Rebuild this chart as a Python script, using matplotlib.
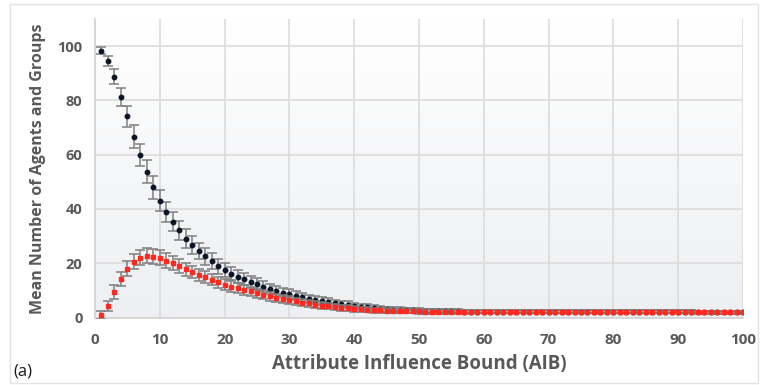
import numpy as np
import matplotlib
matplotlib.use("Agg")
import matplotlib.pyplot as plt
from matplotlib.patches import Rectangle

# attribute influence bound, 1..100
aib = list(range(1, 101))

agents_mean = [
    98.3, 94.5, 88.7, 81.4, 74.2, 66.7, 60.0, 53.8, 48.0, 43.1,
    39.0, 35.3, 32.2, 29.1, 26.6, 24.5, 22.5, 20.8, 18.9, 17.6,
    16.2, 15.1, 14.1, 13.2, 12.3, 11.4, 10.5, 9.8, 9.2, 8.7,
    8.0, 7.4, 6.9, 6.5, 6.1, 5.7, 5.3, 5.0, 4.7, 4.3,
    4.0, 3.7, 3.4, 3.2, 3.0, 2.9, 2.8, 2.7, 2.6, 2.5,
    2.45, 2.4, 2.35, 2.3, 2.3, 2.25, 2.2, 2.2, 2.2, 2.15,
    2.1, 2.1, 2.1, 2.1, 2.1, 2.1, 2.1, 2.1, 2.1, 2.1,
    2.1, 2.1, 2.1, 2.1, 2.1, 2.1, 2.1, 2.1, 2.1, 2.1,
    2.1, 2.1, 2.1, 2.1, 2.1, 2.1, 2.1, 2.1, 2.1, 2.1,
    2.1, 2.1, 1.9, 1.9, 1.9, 1.9, 1.9, 1.9, 1.9, 1.9,
]
agents_err = [
    1.2, 1.8, 2.7, 3.3, 3.9, 4.2, 4.1, 4.2, 4.2, 3.8,
    3.7, 3.6, 3.5, 3.4, 3.3, 3.1, 3.0, 2.9, 2.7, 2.6,
    2.5, 2.4, 2.3, 2.2, 2.1, 2.0, 1.9, 1.8, 1.75, 1.7,
    1.6, 1.55, 1.5, 1.45, 1.4, 1.35, 1.3, 1.25, 1.2, 1.15,
    1.1, 1.1, 1.05, 1.05, 1.0, 1.0, 0.95, 0.9, 0.9, 0.85,
    0.85, 0.8, 0.8, 0.8, 0.75, 0.75, 0.7, 0.7, 0.7, 0.65,
    0.6, 0.6, 0.6, 0.6, 0.6, 0.6, 0.6, 0.6, 0.6, 0.6,
    0.6, 0.6, 0.6, 0.6, 0.6, 0.6, 0.6, 0.6, 0.6, 0.6,
    0.6, 0.6, 0.6, 0.6, 0.6, 0.6, 0.6, 0.6, 0.6, 0.6,
    0.6, 0.6, 0.6, 0.6, 0.6, 0.6, 0.6, 0.6, 0.6, 0.6,
]

groups_mean = [
    1.0, 4.3, 9.4, 14.2, 18.0, 20.6, 22.0, 22.8, 22.4, 22.0,
    21.0, 20.0, 18.9, 17.8, 16.8, 15.8, 14.8, 14.0, 13.0, 12.1,
    11.4, 10.8, 10.2, 9.6, 8.9, 8.4, 7.8, 7.2, 6.8, 6.4,
    5.9, 5.5, 5.2, 4.7, 4.4, 4.1, 3.9, 3.6, 3.4, 3.2,
    3.0, 2.9, 2.7, 2.6, 2.5, 2.45, 2.4, 2.35, 2.3, 2.25,
    2.2, 2.2, 2.2, 2.15, 2.15, 2.15, 2.1, 2.1, 2.1, 2.1,
    2.1, 2.1, 2.1, 2.1, 2.1, 2.1, 2.1, 2.1, 2.1, 2.1,
    2.1, 2.1, 2.1, 2.1, 2.1, 2.1, 2.1, 2.1, 2.1, 2.1,
    2.1, 2.1, 2.1, 2.1, 2.1, 2.1, 2.1, 2.1, 2.1, 2.1,
    2.1, 2.1, 1.9, 1.9, 1.9, 1.9, 1.9, 1.9, 1.9, 1.9,
]
groups_err = [
    1.5, 1.9, 2.4, 2.5, 2.7, 2.8, 2.8, 2.8, 2.8, 2.7,
    2.6, 2.5, 2.5, 2.4, 2.3, 2.2, 2.2, 2.1, 2.0, 2.0,
    1.9, 1.9, 1.8, 1.7, 1.7, 1.6, 1.6, 1.5, 1.5, 1.4,
    1.4, 1.35, 1.3, 1.25, 1.2, 1.15, 1.1, 1.1, 1.05, 1.0,
    1.0, 0.95, 0.95, 0.9, 0.9, 0.85, 0.85, 0.8, 0.8, 0.8,
    0.75, 0.75, 0.7, 0.7, 0.7, 0.65, 0.65, 0.6, 0.6, 0.6,
    0.6, 0.6, 0.6, 0.6, 0.6, 0.6, 0.6, 0.6, 0.6, 0.6,
    0.6, 0.6, 0.6, 0.6, 0.6, 0.6, 0.6, 0.6, 0.6, 0.6,
    0.6, 0.6, 0.6, 0.6, 0.6, 0.6, 0.6, 0.6, 0.6, 0.6,
    0.6, 0.6, 0.6, 0.6, 0.6, 0.6, 0.6, 0.6, 0.6, 0.6,
]

x_ticks = [0, 10, 20, 30, 40, 50, 60, 70, 80, 90, 100]
y_ticks = [0, 20, 40, 60, 80, 100]

GREY_TEXT = "#595959"
plt.rcParams["font.family"] = ["Open Sans", "DejaVu Sans"]

fig = plt.figure(figsize=(7.62, 3.85), dpi=100)
ax = fig.add_axes([95 / 762, (385 - 317.5) / 385, 648 / 762, 298.5 / 385])

# light frame round the whole figure
fig.patches.append(Rectangle((10 / 762, 2 / 385), 748 / 762, 379 / 385,
                             transform=fig.transFigure, fill=False,
                             edgecolor="#e3e3e3", linewidth=1.0))

# soft white-to-grey fill behind the plot
grad = np.linspace(0, 1, 256).reshape(-1, 1)
cmap = matplotlib.colors.LinearSegmentedColormap.from_list("bg", ["#ffffff", "#edeff2"])
ax.imshow(grad, extent=[0, 100, 0, 110], aspect="auto", cmap=cmap,
          origin="upper", zorder=0)

ax.set_xlim(0, 100)
ax.set_ylim(0, 110)
ax.set_xticks(x_ticks)
ax.set_yticks(y_ticks)
ax.grid(True, color="#dedede", linewidth=1.3, zorder=1)
ax.tick_params(axis="x", length=0, pad=11, labelsize=11, labelcolor=GREY_TEXT)
ax.tick_params(axis="y", length=0, pad=9, labelsize=10.5, labelcolor=GREY_TEXT)
for lab in ax.get_xticklabels() + ax.get_yticklabels():
    lab.set_fontweight("bold")
for side in ["top", "right"]:
    ax.spines[side].set_visible(False)
for side in ["left", "bottom"]:
    ax.spines[side].set_color("#d4d4d4")
    ax.spines[side].set_linewidth(1.3)

ax.errorbar(aib, agents_mean, yerr=agents_err, fmt="o", color="#0d1626",
            markersize=3.2, ecolor="#7f7f7f", elinewidth=1.1, capsize=3.4,
            capthick=1.1, zorder=3)
ax.errorbar(aib, groups_mean, yerr=groups_err, fmt="s", color="#ff2a1f",
            markersize=3.0, ecolor="#7f7f7f", elinewidth=1.1, capsize=3.4,
            capthick=1.1, zorder=4)

ax.set_xlabel("Attribute Influence Bound (AIB)", fontsize=13.5, fontweight="bold",
              color=GREY_TEXT, labelpad=5)
ax.set_ylabel("Mean Number of Agents and Groups", fontsize=11.5, fontweight="bold",
              color=GREY_TEXT, labelpad=8)

fig.text(13 / 762, 1 - 372 / 385, "(a)", fontsize=12, color="#1a1a1a",
         va="center", ha="left")

fig.savefig("out.png", dpi=100)
